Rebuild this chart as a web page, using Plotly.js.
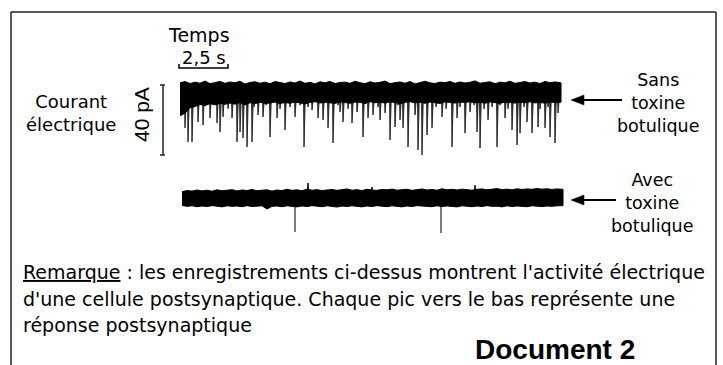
<!DOCTYPE html>
<html><head><meta charset="utf-8">
<script src="https://cdn.plot.ly/plotly-3.0.1.min.js"></script>
<style>html,body{margin:0;padding:0;background:#fff}</style>
</head><body>
<div id="chart" style="width:723px;height:365px"></div>
<script>
// ---------- DATA ----------
// Recording 1: sans toxine botulique (time in s, current in pA relative to baseline)
const envTime1 = [0,0.25,0.5,0.75,1,1.25,1.5,1.75,2,2.25,2.5,2.75,3,3.25,3.5,3.75,4,4.25,4.5,4.75,5,5.25,5.5,5.75,6,6.25,6.5,6.75,7,7.25,7.5,7.75,8,8.25,8.5,8.75,9,9.25,9.5,9.75,10,10.25,10.5,10.75,11,11.25,11.5,11.75,12,12.25,12.5,12.75,13,13.25,13.5,13.75,14,14.25,14.5,14.75,15,15.25,15.5,15.75,16,16.25,16.5,16.75,17,17.25,17.5,17.75,18,18.25,18.5,18.75,19.05];
const upper1 = [4.6,5.3,4.2,5.0,4.4,5.6,4.1,4.9,5.4,4.3,5.1,4.6,5.5,3.9,4.8,5.2,4.4,5.0,4.1,5.3,4.7,4.2,5.1,4.5,5.6,4.3,4.9,4.0,5.2,4.6,5.4,4.2,4.8,5.0,4.3,5.5,4.7,4.1,5.2,4.5,4.9,5.6,4.2,4.8,5.1,4.4,5.3,4.0,4.9,5.5,4.6,4.2,5.0,4.7,5.4,4.3,5.1,4.5,4.9,5.7,4.4,4.8,5.2,4.1,5.0,4.6,5.5,4.3,4.9,5.3,4.5,5.0,4.2,5.4,4.7,5.1,4.6];
const lower1 = [-14,-12.5,-9.5,-8.8,-7.6,-8.2,-7.1,-7.8,-6.9,-7.5,-6.8,-7.4,-6.5,-7.9,-6.6,-7.2,-6.3,-7.0,-6.8,-6.2,-7.1,-6.5,-6.9,-6.2,-6.7,-7.3,-6.4,-6.0,-6.8,-6.3,-6.6,-7.0,-6.1,-6.5,-6.9,-6.2,-6.4,-7.1,-6.0,-6.6,-6.3,-6.8,-6.1,-6.5,-7.2,-6.4,-6.0,-6.7,-6.3,-6.9,-6.2,-6.6,-7.0,-6.1,-6.4,-6.8,-6.2,-6.5,-6.0,-6.7,-6.3,-6.9,-6.1,-6.6,-7.0,-6.2,-6.5,-6.8,-6.3,-6.6,-6.1,-6.7,-6.4,-6.9,-6.2,-6.5,-6.3];
const spikeTime1 = [0.25,0.4,0.6,0.7,0.9,1.15,1.3,1.5,1.85,2.0,2.15,2.4,2.6,2.85,3.0,3.15,3.35,3.6,3.7,3.9,4.15,4.3,4.5,4.85,5.0,5.25,5.5,5.75,6.0,6.2,6.4,6.6,6.9,7.15,7.4,7.65,7.9,8.0,8.15,8.4,8.6,8.85,9.15,9.4,9.65,9.9,10.0,10.25,10.5,10.75,10.9,11.0,11.15,11.4,11.75,11.9,12.1,12.35,12.6,12.8,13.1,13.3,13.6,13.85,14.0,14.25,14.5,14.7,14.85,15.0,15.2,15.4,15.6,15.85,16.0,16.25,16.4,16.6,16.85,17.0,17.2,17.35,17.6,17.9,18.0,18.25,18.4,18.5,18.75,18.9];
const spikeAmp1 = [-20.8,-28.7,-28.7,-9,-17.5,-19.2,-8,-15.2,-18.0,-23.1,-14.6,-10,-15.2,-28.7,-23.1,-26.5,-31.5,-28.7,-9,-13.5,-14.6,-8,-25.9,-15.2,-10,-22.0,-9,-14.6,-8,-31.5,-9,-10.7,-15.2,-16.3,-20.8,-29.3,-8,-11.8,-17.5,-10,-18.0,-11.8,-25.9,-15.2,-13.5,-9,-16.3,-12.4,-27.6,-20.3,-8,-16.3,-20.8,-31.5,-13.5,-33.2,-36.1,-24.8,-20.8,-9,-14.6,-10,-31.5,-15.2,-9,-23.7,-11.8,-8,-23.1,-32.1,-10,-16.3,-9,-31.5,-8,-15.2,-10,-22.0,-30.4,-23.7,-9,-17.5,-23.7,-20.3,-10,-20.8,-9,-25.9,-29.3,-12.4];

// Recording 2: avec toxine botulique
const envTime2 = [0.1,0.35,0.6,0.85,1.1,1.35,1.6,1.85,2.1,2.35,2.6,2.85,3.1,3.35,3.6,3.85,4.1,4.35,4.6,4.85,5.1,5.35,5.6,5.85,6.1,6.35,6.6,6.85,7.1,7.35,7.6,7.85,8.1,8.35,8.6,8.85,9.1,9.35,9.6,9.85,10.1,10.35,10.6,10.85,11.1,11.35,11.6,11.85,12.1,12.35,12.6,12.85,13.1,13.35,13.6,13.85,14.1,14.35,14.6,14.85,15.1,15.35,15.6,15.85,16.1,16.35,16.6,16.85,17.1,17.35,17.6,17.85,18.1,18.35,18.6,18.85,19.15];
const upper2 = [3.6,4.2,3.9,4.5,4.0,4.4,3.8,4.6,4.1,4.3,4.7,4.0,4.5,4.2,4.8,4.1,4.4,4.6,3.9,4.5,4.2,4.9,4.3,4.6,4.1,5.0,4.4,4.7,4.2,4.5,4.8,4.3,4.6,5.1,4.4,4.7,4.2,4.9,4.5,4.3,4.8,4.6,5.0,4.4,4.7,4.9,4.3,4.6,5.1,4.5,4.8,4.4,5.2,4.6,4.9,4.5,5.0,4.7,4.4,4.9,5.1,4.6,4.8,5.3,4.7,5.0,4.6,5.2,4.8,5.1,4.9,5.3,5.0,5.2,4.8,5.1,4.9];
const lower2 = [-4.2,-4.7,-4.4,-4.9,-4.5,-4.8,-4.3,-4.6,-5.0,-4.4,-4.7,-4.5,-4.9,-4.3,-4.8,-4.6,-4.4,-6.2,-4.7,-4.5,-4.9,-4.4,-4.6,-5.0,-4.5,-4.8,-4.3,-4.7,-4.9,-4.4,-4.6,-5.1,-4.5,-4.8,-4.4,-4.7,-5.0,-4.5,-4.8,-4.3,-4.7,-4.9,-4.4,-4.6,-5.0,-4.5,-4.8,-4.3,-4.7,-4.6,-4.9,-4.4,-4.8,-4.5,-4.7,-5.0,-4.4,-4.6,-4.9,-4.5,-4.8,-4.3,-4.7,-4.6,-5.0,-4.4,-4.8,-4.5,-4.7,-4.9,-4.4,-4.6,-4.8,-4.5,-4.7,-4.4,-4.3];
const spikeTime2 = [5.75,13.05];
const spikeAmp2 = [-19.2,-19.7];
const bumpTime2 = [6.4,9.6,14.75];
const bumpAmp2 = [8.4,6.2,7.2];

// Texts
const remarkLines = [
  '<span style="text-decoration:underline">Remarque</span> : les enregistrements ci-dessus montrent l\'activité électrique',
  'd\'une cellule postsynaptique. Chaque pic vers le bas représente une',
  'réponse postsynaptique'
];

// ---------- LAYOUT HELPERS ----------
const W = 723, H = 365;
const PX_PER_S = 20, X0 = 180;           // scale bar: 2,5 s = 50 px
const PX_PER_PA = 71 / 40;                // scale bar: 40 pA = 71 px
const px = x => x / W;
const py = y => 1 - y / H;
function yAxis(topPx, botPx, zeroPx) {
  return {
    domain: [py(botPx), py(topPx)],
    range: [-(botPx - zeroPx) / PX_PER_PA, (zeroPx - topPx) / PX_PER_PA],
    visible: false, fixedrange: true
  };
}
function bandTrace(t, up, lo, yaxis) {
  return {
    x: t.concat(t.slice().reverse()),
    y: up.concat(lo.slice().reverse()),
    yaxis: yaxis, mode: 'lines', fill: 'toself',
    fillcolor: '#000', line: {color: '#000', width: 1}, hoverinfo: 'skip'
  };
}
// each spike: fast fall, slower recovery (thin wedge)
function spikeTrace(t, amp, base, yaxis, color, wl, wr, lw) {
  const xs = [], ys = [];
  t.forEach((v, i) => { xs.push(v - wl, v, v + wr, null); ys.push(base, amp[i], base, null); });
  return {x: xs, y: ys, yaxis: yaxis, mode: 'lines', fill: 'toself', fillcolor: color,
          line: {color: color, width: lw}, hoverinfo: 'skip'};
}

const data = [
  spikeTrace(spikeTime1, spikeAmp1, -5, 'y', '#2a2a2a', 0.02, 0.06, 1),
  bandTrace(envTime1, upper1, lower1, 'y'),
  spikeTrace(spikeTime2, spikeAmp2, -3, 'y2', '#333', 0, 0, 1.3),
  spikeTrace(bumpTime2, bumpAmp2, 3, 'y2', '#000', 0.03, 0.03, 1),
  bandTrace(envTime2, upper2, lower2, 'y2')
];

const comic = 'DejaVu Sans';
function ann(text, x, y, size, extra) {
  return Object.assign({text: text, x: px(x), y: py(y), xref: 'paper', yref: 'paper',
    showarrow: false, font: {family: comic, size: size, color: '#000'},
    xanchor: 'center', yanchor: 'middle', align: 'center'}, extra || {});
}
const annotations = [
  ann('Temps', 199, 35, 19),
  ann('2,5 s', 204, 57.5, 18),
  ann('Courant<br>électrique', 71, 113, 18),
  ann('40 pA', 142, 115, 21, {textangle: -90, font: {family: 'Liberation Sans', size: 21, color: '#000'}}),
  ann('Sans<br>toxine<br>botulique', 658, 103, 17.5),
  ann('Avec<br>toxine<br>botulique', 652, 203, 17.5),
  ann(remarkLines[0], 21, 272, 19, {xanchor: 'left'}),
  ann(remarkLines[1], 21, 299, 19, {xanchor: 'left'}),
  ann(remarkLines[2], 21, 325, 19, {xanchor: 'left'}),
  ann('<b>Document 2</b>', 555, 349, 28, {font: {family: 'Liberation Sans', size: 28, color: '#000'}})
];

function line(x0, y0, x1, y1, w, c) {
  return {type: 'line', xref: 'paper', yref: 'paper', x0: px(x0), y0: py(y0), x1: px(x1), y1: py(y1),
          line: {color: c || '#000', width: w}};
}
function path(pts, fill) {
  const d = pts.map((p, i) => (i ? 'L' : 'M') + px(p[0]) + ',' + py(p[1])).join(' ') + (fill ? ' Z' : '');
  return {type: 'path', xref: 'paper', yref: 'paper', path: d,
          fillcolor: fill ? '#000' : 'rgba(0,0,0,0)', line: {color: '#000', width: fill ? 0.5 : 1.5}};
}
const shapes = [
  line(11, 12, 716, 12, 1.5, '#222'),
  line(11, 12, 11, 366, 1.5, '#222'),
  line(716, 12, 716, 366, 1.5, '#222'),
  // 40 pA scale bar
  line(163, 85, 163, 155, 1.5, '#222'),
  line(160, 85, 165, 85, 1.5, '#222'),
  line(160, 155, 165, 155, 1.5, '#222'),
  // 2,5 s scale bar
  path([[179, 64], [179, 68], [228, 68], [228, 64]], false),
  // arrows
  line(581, 100, 622, 100, 2.2),
  path([[571, 100], [584, 95], [584, 105]], true),
  line(581, 200, 616, 200, 2.2),
  path([[571, 200], [584, 195], [584, 205]], true)
];

const layout = {
  width: W, height: H, margin: {l: 0, r: 0, t: 0, b: 0},
  paper_bgcolor: '#fff', plot_bgcolor: 'rgba(0,0,0,0)', showlegend: false,
  xaxis: {range: [-X0 / PX_PER_S, (W - X0) / PX_PER_S], visible: false, fixedrange: true},
  yaxis: yAxis(60, 170, 91),
  yaxis2: Object.assign(yAxis(170, 250, 198), {anchor: 'x'}),
  annotations: annotations, shapes: shapes
};
Plotly.newPlot('chart', data, layout, {staticPlot: true, displayModeBar: false});
</script>
</body></html>
